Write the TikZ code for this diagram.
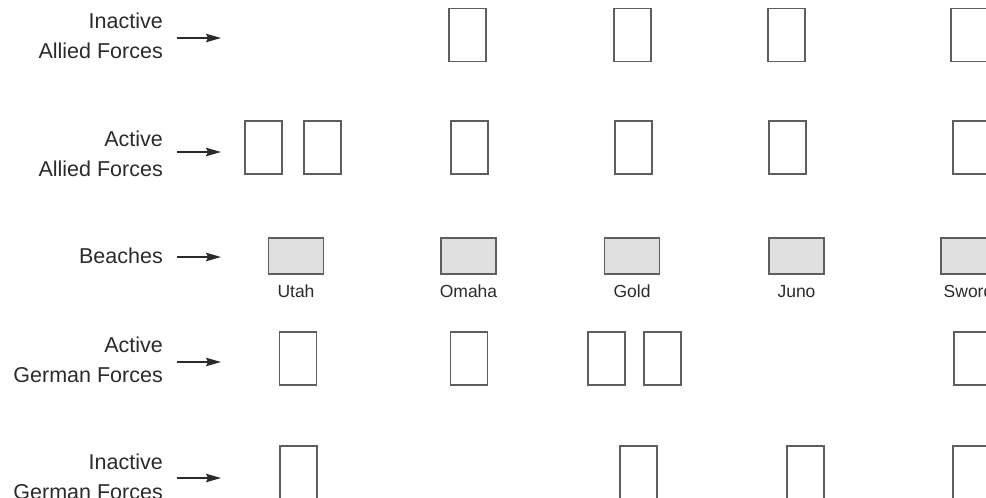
\documentclass[tikz,border=0pt]{standalone}
\usepackage{fontspec}
\setmainfont{Liberation Sans}
\usetikzlibrary{arrows.meta}
\definecolor{ink}{HTML}{2B2B2B}
\definecolor{edge}{HTML}{5E5E5E}
\definecolor{sand}{HTML}{E0E0E0}
\begin{document}
\begin{tikzpicture}[x=1pt,y=-1pt,
  rowlabel/.style={anchor=east, align=right, font=\fontsize{21.5}{30}\selectfont, text=ink, inner sep=0pt},
  arr/.style={line width=1.4pt, draw=ink, -{Stealth[length=15pt,width=8.5pt,inset=2pt]}},
  force/.style={draw=edge, line width=1.4pt, fill=white, minimum width=37pt, minimum height=53pt, inner sep=0pt},
  beach/.style={draw=edge, line width=1.4pt, fill=sand, minimum width=55pt, minimum height=36pt, inner sep=0pt},
  beachname/.style={anchor=base, font=\fontsize{17.5}{20}\selectfont, text=ink, inner sep=0pt}]
\useasboundingbox (0,0) rectangle (986,498);
\clip (0,0) rectangle (986,498);

% row labels
\node[rowlabel] (lia) at (163,35.6) {Inactive\\Allied Forces};
\node[rowlabel] (laa) at (163,154.3) {Active\\Allied Forces};
\node[rowlabel] (lbe) at (163,256.3) {Beaches};
\node[rowlabel] (lag) at (163,360.3) {Active\\German Forces};
\node[rowlabel] (lig) at (163,477.3) {Inactive\\German Forces};

% arrows
\coordinate (ia1) at (177,38);  \coordinate (ia2) at (221,38);
\coordinate (aa1) at (177,152); \coordinate (aa2) at (221,152);
\coordinate (be1) at (177,257); \coordinate (be2) at (221,257);
\coordinate (ag1) at (177,362); \coordinate (ag2) at (221,362);
\coordinate (ig1) at (177,478); \coordinate (ig2) at (221,478);
\draw[arr] (ia1) -- (ia2);
\draw[arr] (aa1) -- (aa2);
\draw[arr] (be1) -- (be2);
\draw[arr] (ag1) -- (ag2);
\draw[arr] (ig1) -- (ig2);

% inactive allied forces
\node[force] (iaOmaha) at (467.5,35) {};
\node[force] (iaGold)  at (632.5,35) {};
\node[force] (iaJuno)  at (786.5,35) {};
\node[force] (iaSword) at (969.5,35) {};

% active allied forces
\node[force] (aaUtahA) at (263.5,147.5) {};
\node[force] (aaUtahB) at (322.5,147.5) {};
\node[force] (aaOmaha) at (469.5,147.5) {};
\node[force] (aaGold)  at (633.5,147.5) {};
\node[force] (aaJuno)  at (787.5,147.5) {};
\node[force] (aaSword) at (971.5,147.5) {};

% beaches
\node[beach] (bUtah)  at (296,256) {};
\node[beach] (bOmaha) at (468.5,256) {};
\node[beach] (bGold)  at (632,256) {};
\node[beach] (bJuno)  at (796.5,256) {};
\node[beach] (bSword) at (968.5,256) {};
\node[beachname] (nUtah)  at (296,297) {Utah};
\node[beachname] (nOmaha) at (468.5,297) {Omaha};
\node[beachname] (nGold)  at (632,297) {Gold};
\node[beachname] (nJuno)  at (796.5,297) {Juno};
\node[beachname] (nSword) at (968.5,297) {Sword};

% active german forces
\node[force] (agUtah)  at (298,358.5) {};
\node[force] (agOmaha) at (469,358.5) {};
\node[force] (agGoldA) at (606.5,358.5) {};
\node[force] (agGoldB) at (662.5,358.5) {};
\node[force] (agSword) at (972.5,358.5) {};

% inactive german forces
\node[force] (igUtah)  at (298.5,472.5) {};
\node[force] (igGold)  at (638.5,472.5) {};
\node[force] (igJuno)  at (805.5,472.5) {};
\node[force] (igSword) at (971.5,472.5) {};
\end{tikzpicture}
\end{document}
